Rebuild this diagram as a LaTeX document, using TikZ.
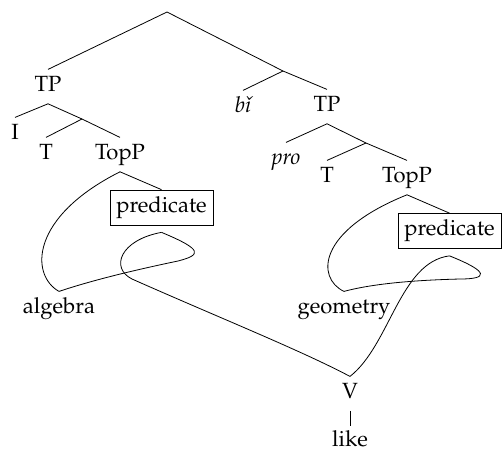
\documentclass[tikz,border=0pt]{standalone}
\usepackage[T1]{fontenc}
\usepackage{mathpazo}

\begin{document}
\begin{tikzpicture}[x=0.5pt,y=-0.5pt,
    lbl/.style={anchor=base,inner sep=3pt,text height=7.6pt,text depth=3.2pt,font=\fontsize{11pt}{13pt}\selectfont},
    pred/.style={draw,inner sep=3.2pt,font=\fontsize{11pt}{13pt}\selectfont}]
      \useasboundingbox (0,0) rectangle (502,451);
      \draw
        (167,12) coordinate (root)
        (283,71) coordinate (x)
        (82,119) coordinate (m1)
        (366,143) coordinate (m2)
        (48,91) node[lbl] (tpL){TP}
        (243,112) node[lbl] (bi){\textit{b\v{\i}}}
        (327,111) node[lbl] (tpR){TP}
        (15,139) node[lbl] (iL){I}
        (46,159) node[lbl] (tL){T}
        (120,159) node[lbl] (toppL){TopP}
        (286,164) node[lbl] (pro){\textit{pro}}
        (327,182) node[lbl] (tR){T}
        (407,182) node[lbl] (toppR){TopP}
        (161.5,207.5) node[pred] (predL){predicate}
        (449.5,231) node[pred] (predR){predicate}
        (59,313) node[lbl] (alg){algebra}
        (344,313) node[lbl] (geo){geometry}
        (350,398) node[lbl] (v){V}
        (350,446) node[lbl,text depth=0pt,inner sep=1pt] (like){like};
      \coordinate (pbL) at ([yshift=-3.5pt]predL.south);
      \coordinate (pbR) at ([yshift=-3.5pt]predR.south);
      \begin{scope}[-]
        \draw (tpL.north) -- (root) -- (x);
        \draw (bi.north) -- (x) -- (tpR.north);
        \draw (iL.north) -- (tpL.south) -- (m1);
        \draw (tL.north) -- (m1) -- (toppL.north);
        \draw (pro.north) -- (tpR.south) -- (m2);
        \draw (tR.north) -- (m2) -- (toppR.north);
        \draw (toppL.south) -- (predL.north);
        \draw (toppR.south) -- (predR.north);
        \draw (v.south) -- ([yshift=1pt]like.north);
      \end{scope}
      % crossing branches
      \begin{scope}[-]
        \draw (toppL.south) .. controls (30,217) and (30,275) .. (alg.north);
        \draw (pbL) .. controls (204,250) and (201,255) .. (178,261)
          .. controls (130,271) and (90,281) .. (alg.north);
        \draw (pbL) .. controls (120,240) and (110,268) .. (132,279)
          .. controls (220,318) and (300,350) .. (v.north);
        \draw (toppR.south) .. controls (317,231) and (316,278) .. (geo.north);
        \draw (pbR) .. controls (490,272) and (488,279) .. (460,279)
          .. controls (420,280) and (375,283) .. (geo.north);
        \draw (pbR) .. controls (400,262) and (390,345) .. (v.north);
      \end{scope}
    \end{tikzpicture}
\end{document}
